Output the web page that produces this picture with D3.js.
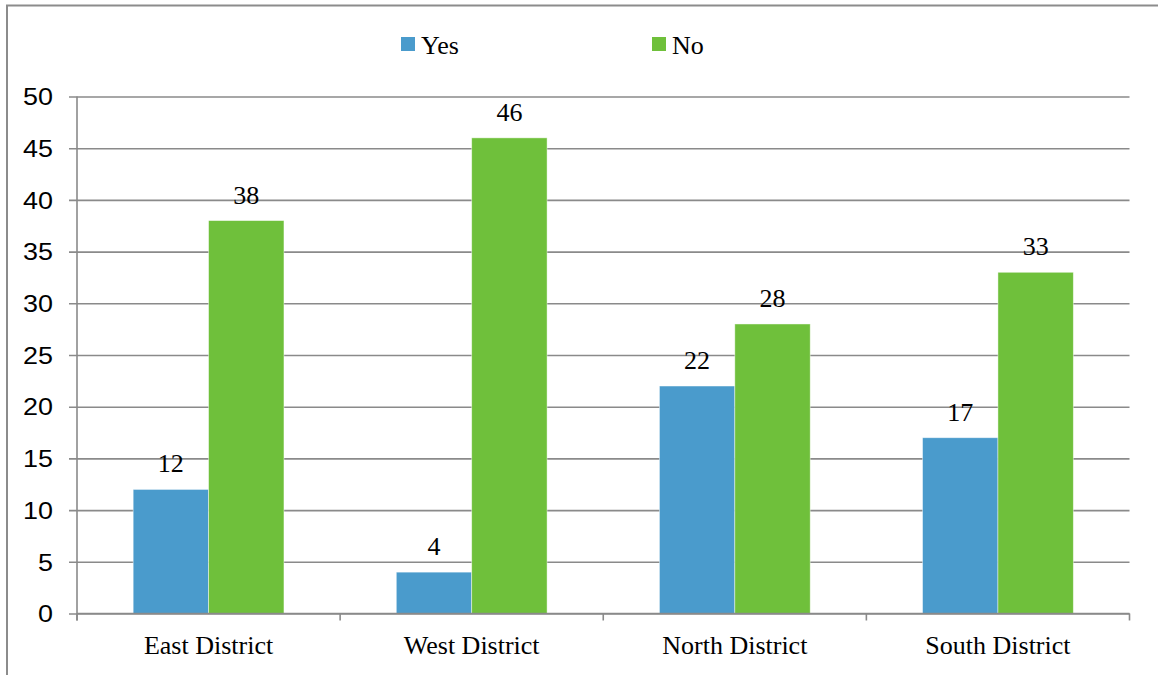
<!DOCTYPE html>
<html>
<head>
<meta charset="utf-8">
<script src="https://cdn.jsdelivr.net/npm/d3@7"></script>
<style>
  html, body { margin: 0; padding: 0; background: #fff; }
  svg { display: block; }
</style>
</head>
<body>
<svg id="chart" width="1158" height="675"></svg>
<script>
// Survey responses per district
const categories = ["East District", "West District", "North District", "South District"];
const seriesNames = ["Yes", "No"];
const yesValues = [12, 4, 22, 17];
const noValues = [38, 46, 28, 33];
const yTicks = [0, 5, 10, 15, 20, 25, 30, 35, 40, 45, 50];

const colors = { Yes: "#4a9bcc", No: "#6fc03b" };
const gridColor = "#8a8a8a";
const serif = "'Liberation Serif', 'DejaVu Serif', 'Times New Roman', serif";
const sans = "'Liberation Sans', Arial, sans-serif";

const svg = d3.select("#chart");
const W = 1158, H = 675;
const plot = { left: 77, right: 1129.5, top: 96.5, bottom: 613.5 };

// outer frame (left and top edges visible)
svg.append("path")
  .attr("d", `M7,${H + 5} V5.5 H${W + 5}`)
  .attr("fill", "none")
  .attr("stroke", "#8c8c8c")
  .attr("stroke-width", 2);

const x0 = d3.scaleBand().domain(categories).range([plot.left, plot.right]).paddingInner(0).paddingOuter(0);
const x1 = d3.scaleBand().domain(seriesNames).range([0, x0.bandwidth()]).paddingOuter(0.745).paddingInner(0);
const y = d3.scaleLinear().domain([0, 50]).range([plot.bottom, plot.top]);

// horizontal gridlines + y axis labels
const yAxis = d3.axisLeft(y).tickValues(yTicks).tickSize(-(plot.right - plot.left)).tickPadding(0).tickSizeOuter(0);
const gy = svg.append("g").attr("transform", `translate(${plot.left},0)`).call(yAxis);
gy.select(".domain").remove();
gy.selectAll(".tick line")
  .attr("x1", -8)
  .attr("stroke", gridColor)
  .attr("stroke-width", 1.6);
const labelStretch = 1.17;
gy.selectAll(".tick text")
  .attr("x", -24 / labelStretch)
  .attr("transform", `scale(${labelStretch},1)`)
  .attr("dy", "0.36em")
  .attr("font-family", sans)
  .attr("font-size", 23)
  .attr("fill", "#000");

// vertical axis line
svg.append("line")
  .attr("x1", plot.left).attr("x2", plot.left)
  .attr("y1", plot.top).attr("y2", plot.bottom + 7)
  .attr("stroke", gridColor).attr("stroke-width", 1.6);

// bars
const rows = categories.map((c, i) => ({ cat: c, Yes: yesValues[i], No: noValues[i] }));
const groups = svg.append("g").selectAll("g")
  .data(rows).join("g")
  .attr("transform", d => `translate(${x0(d.cat)},0)`);

groups.selectAll("rect")
  .data(d => seriesNames.map(k => ({ key: k, value: d[k] })))
  .join("rect")
  .attr("x", d => x1(d.key))
  .attr("width", x1.bandwidth())
  .attr("y", d => y(d.value))
  .attr("height", d => y(0) - y(d.value))
  .attr("fill", d => colors[d.key])
  .attr("stroke", "rgba(255,255,255,0.55)")
  .attr("stroke-width", 0.8);

// value labels
groups.selectAll("text.val")
  .data(d => seriesNames.map(k => ({ key: k, value: d[k] })))
  .join("text")
  .attr("class", "val")
  .attr("x", d => x1(d.key) + x1.bandwidth() / 2)
  .attr("y", d => y(d.value) - 17)
  .attr("text-anchor", "middle")
  .attr("font-family", serif)
  .attr("font-size", 26)
  .attr("fill", "#000")
  .text(d => d.value);

// x axis line (zero line) with category boundary ticks
svg.append("line")
  .attr("x1", plot.left).attr("x2", plot.right)
  .attr("y1", plot.bottom).attr("y2", plot.bottom)
  .attr("stroke", gridColor).attr("stroke-width", 1.6);
const boundaries = categories.map(c => x0(c)).concat([plot.right]);
svg.append("g").selectAll("line")
  .data(boundaries).join("line")
  .attr("x1", d => d).attr("x2", d => d)
  .attr("y1", plot.bottom).attr("y2", plot.bottom + 7)
  .attr("stroke", gridColor).attr("stroke-width", 1.6);

// category labels
svg.append("g").selectAll("text")
  .data(categories).join("text")
  .attr("x", d => x0(d) + x0.bandwidth() / 2)
  .attr("y", 654)
  .attr("text-anchor", "middle")
  .attr("font-family", serif)
  .attr("font-size", 26)
  .attr("fill", "#000")
  .text(d => d);

// legend
const legendX = { Yes: 401, No: 652 };
const legend = svg.append("g").selectAll("g")
  .data(seriesNames).join("g")
  .attr("transform", d => `translate(${legendX[d]},37)`);
legend.append("rect")
  .attr("width", 14).attr("height", 14)
  .attr("fill", d => colors[d]);
legend.append("text")
  .attr("x", 20).attr("y", 17)
  .attr("font-family", serif)
  .attr("font-size", 26)
  .attr("fill", "#000")
  .text(d => d);
</script>
</body>
</html>
